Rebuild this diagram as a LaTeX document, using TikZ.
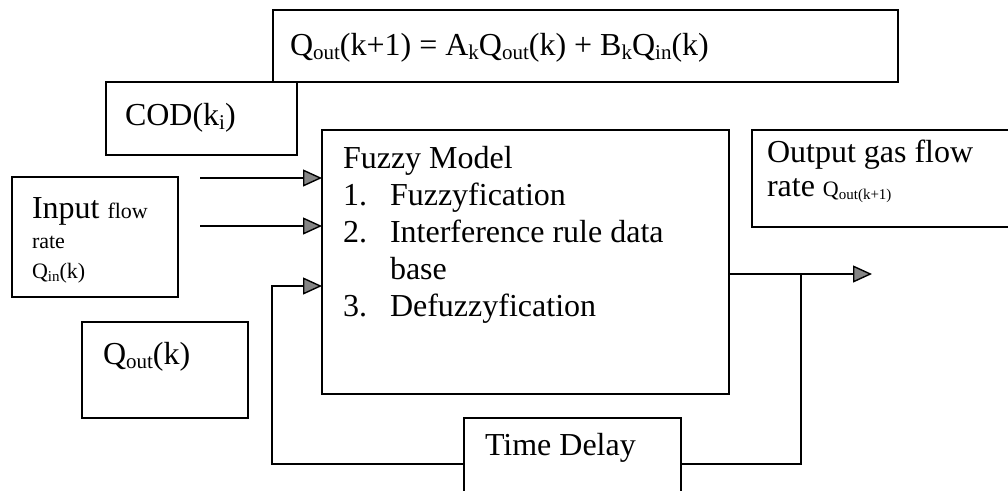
\documentclass[tikz,border=0pt]{standalone}
\usepackage{fontspec}
\setmainfont{Liberation Serif}
\usetikzlibrary{arrows.meta}

% subscripts for the large and the small text size
\newcommand\lob[1]{\raisebox{-4pt}{\fontsize{21}{21}\selectfont #1}}
\newcommand\los[1]{\raisebox{-3pt}{\fontsize{15}{15}\selectfont #1}}
\newcommand\bigtxt{\fontsize{32}{36}\selectfont}
\newcommand\smltxt{\fontsize{22}{26}\selectfont}

\tikzset{
  blk/.style={draw, line width=2pt, inner sep=0pt, outer sep=0pt, anchor=north west},
  lbl/.style={anchor=base west, inner sep=0pt, outer sep=0pt, font=\bigtxt},
  wire/.style={line width=1.8pt},
  arr/.style={wire, -{Triangle[length=19pt,width=17pt,fill=gray!40!black!60,line width=1.4pt]}},
}

\begin{document}
\begin{tikzpicture}[x=1pt,y=-1pt]
\useasboundingbox (0,0) rectangle (1008,490);
\clip (0,0) rectangle (1008,490);

% boxes
\node[blk, minimum width=625pt, minimum height=72pt] (eq)    at (273,10)  {};
\node[blk, minimum width=191pt, minimum height=73pt, fill=white] (cod) at (106,82) {};
\node[blk, minimum width=166pt, minimum height=120pt] (inp)  at (12,177)  {};
\node[blk, minimum width=166pt, minimum height=96pt]  (qo)   at (82,322)  {};
\node[blk, minimum width=407pt, minimum height=264pt] (fz)   at (322,130) {};
\node[blk, minimum width=268pt, minimum height=97pt]  (outp) at (752,130) {};
\node[blk, minimum width=217pt, minimum height=92pt]  (dl)   at (464,418) {};

% texts
\node[lbl] (teq) at (290,55) {Q\lob{out}(k+1) = A\lob{k}Q\lob{out}(k) + B\lob{k}Q\lob{in}(k)};
\node[lbl] (tcod) at (125,125) {COD(k\lob{i})};
\node[lbl] (tin1) at (32,218) {Input {\smltxt flow}};
\node[lbl, font=\smltxt] (tin2) at (32,248) {rate};
\node[lbl, font=\smltxt] (tin3) at (32,278) {Q\los{in}(k)};
\node[lbl] (tqo) at (103,364) {Q\lob{out}(k)};
\node[lbl] (tfz) at (343,168) {Fuzzy Model};
\node[lbl] (n1) at (343,205) {1.};
\node[lbl] (i1) at (390,205) {Fuzzyfication};
\node[lbl] (n2) at (343,242) {2.};
\node[lbl] (i2) at (390,242) {Interference rule data};
\node[lbl] (i2b) at (390,279) {base};
\node[lbl] (n3) at (343,316) {3.};
\node[lbl] (i3) at (390,316) {Defuzzyfication};
\node[lbl] (to1) at (767,162) {Output gas flow};
\node[lbl] (to2) at (767,196) {rate {\smltxt Q\los{out(k+1)}}};
\node[lbl] (tdl) at (485,455) {Time Delay};

% input arrows
\coordinate (s1) at (200,178);
\coordinate (s2) at (200,226);
\draw[arr] (s1) -- (s1 -| fz.west);
\draw[arr] (s2) -- (s2 -| fz.west);

% output and feedback through the delay
\coordinate (tip) at (872,274);
\coordinate (br) at (801,274);
\coordinate (fb) at (272,286);
\draw[arr] (fz.east |- tip) -- (tip);
\draw[wire] (br) |- (dl.east);
\draw[arr] (dl.west) -| (fb) -- (fb -| fz.west);
\end{tikzpicture}
\end{document}
